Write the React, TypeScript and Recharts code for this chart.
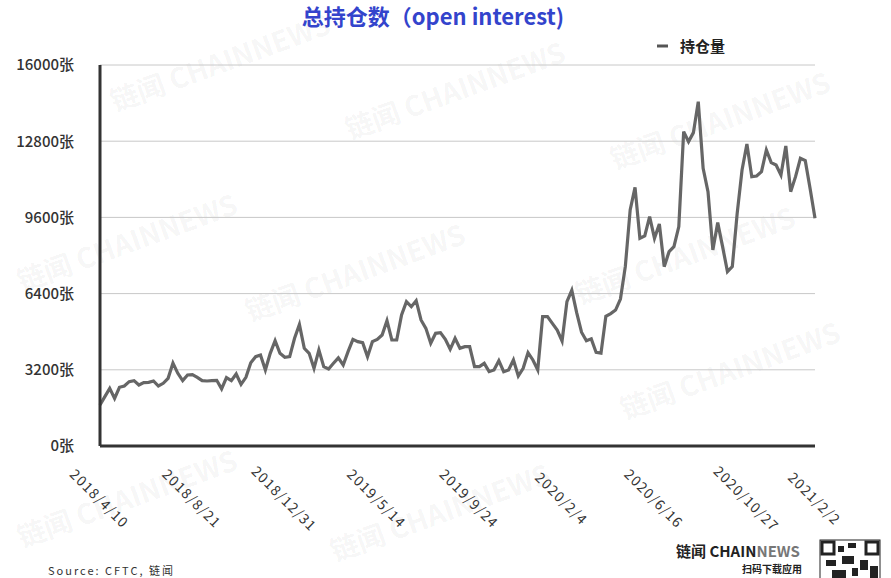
import { LineChart, Line, XAxis, YAxis, CartesianGrid } from 'recharts'

// weekly CME bitcoin futures open interest (contracts)
const openInterest = [
  1722, 2072, 2422, 2002, 2464, 2520, 2702, 2744, 2562, 2660,
  2674, 2730, 2520, 2632, 2842, 3480, 3052, 2744, 2982, 2996,
  2884, 2744, 2730, 2744, 2758, 2400, 2870, 2744, 3024, 2590,
  2884, 3500, 3752, 3822, 3192, 3892, 4424, 3892, 3724, 3752,
  4522, 5100, 4102, 3892, 3262, 4032, 3332, 3234, 3472, 3700,
  3402, 3962, 4480, 4382, 4340, 3752, 4382, 4480, 4662, 5264,
  4452, 4452, 5502, 6062, 5852, 6104, 5292, 4942, 4312, 4732,
  4760, 4480, 4060, 4522, 4102, 4172, 4172, 3332, 3332, 3472,
  3122, 3192, 3584, 3122, 3192, 3612, 2940, 3262, 3920, 3612,
  3192, 5432, 5432, 5152, 4872, 4410, 6062, 6540, 5600, 4780,
  4420, 4500, 3930, 3900, 5450, 5560, 5710, 6170, 7532, 9912,
  10864, 8722, 8820, 9632, 8722, 9324, 7532, 8162, 8372, 9212,
  13202, 12782, 13160, 14462, 11662, 10682, 8232, 9380, 8372, 7322,
  7532, 9772, 11592, 12684, 11312, 11340, 11522, 12432, 11900, 11802,
  11382, 12600, 10682, 11312, 12082, 11984, 10800, 9562,
]

const tickWeeks = [0, 19, 38, 57, 76, 95, 114, 133, 147]
const tickLabels = [
  '2018/4/10', '2018/8/21', '2018/12/31', '2019/5/14', '2019/9/24',
  '2020/2/4', '2020/6/16', '2020/10/27', '2021/2/2',
]
const yTicks = [0, 3200, 6400, 9600, 12800, 16000]

const data = openInterest.map((v, i) => ({ week: i, oi: v }))

const FONT = '"Noto Sans CJK SC", "Noto Sans", sans-serif'

const watermarks = [
  { x: 115, y: 112 },
  { x: 350, y: 140 },
  { x: 615, y: 170 },
  { x: 22, y: 292 },
  { x: 250, y: 322 },
  { x: 580, y: 305 },
  { x: 625, y: 420 },
  { x: 22, y: 548 },
  { x: 335, y: 562 },
]

function XTick(props: any) {
  const { x, y, payload } = props
  const idx = tickWeeks.indexOf(payload.value)
  return (
    <text
      transform={`translate(${x},${y + 46}) rotate(45)`}
      textAnchor="middle"
      dominantBaseline="central"
      fontSize={14}
      letterSpacing={1.2}
      fill="#333"
      fontFamily={FONT}
    >
      {tickLabels[idx]}
    </text>
  )
}

export default function App() {
  return (
    <div
      style={{
        position: 'absolute',
        left: 0,
        top: 0,
        width: 891,
        height: 578,
        overflow: 'hidden',
        background: '#fff',
        fontFamily: FONT,
      }}
    >
      <svg width={891} height={578} style={{ position: 'absolute', left: 0, top: 0 }}>
        {watermarks.map((w, i) => (
          <text
            key={i}
            x={w.x}
            y={w.y}
            transform={`rotate(-20 ${w.x} ${w.y})`}
            fontSize={28}
            fontWeight={700}
            fill="rgba(0,0,0,0.05)"
            fontFamily={FONT}
          >
            链闻 CHAINNEWS
          </text>
        ))}
      </svg>

      <div style={{ position: 'absolute', left: 0, top: 0 }}>
        <LineChart
          width={891}
          height={578}
          data={data}
          margin={{ top: 65, right: 76, bottom: 0, left: 0 }}
        >
          <CartesianGrid vertical={false} stroke="#c8c8c8" strokeWidth={1} />
          <XAxis
            type="number"
            dataKey="week"
            domain={[0, 147]}
            ticks={tickWeeks}
            interval={0}
            tick={<XTick />}
            tickLine={false}
            tickMargin={0}
            axisLine={{ stroke: '#333', strokeWidth: 3 }}
            height={132}
          />
          <YAxis
            type="number"
            domain={[0, 16000]}
            ticks={yTicks}
            interval={0}
            width={100}
            tickLine={false}
            tickMargin={20}
            axisLine={{ stroke: '#333', strokeWidth: 3 }}
            tickFormatter={(v: number) => `${v}张`}
            tick={{ fill: '#333', fontSize: 15, fontWeight: 500, fontFamily: FONT }}
          />
          <Line
            type="linear"
            dataKey="oi"
            stroke="#666"
            strokeWidth={3.2}
            dot={false}
            isAnimationActive={false}
          />
        </LineChart>
      </div>

      <svg width={891} height={578} style={{ position: 'absolute', left: 0, top: 0, pointerEvents: 'none' }}>
        <text x={433} y={25} textAnchor="middle" fontSize={22} fontWeight={700} fill="#3344cc" fontFamily={FONT}>
          总持仓数（open interest)
        </text>

        <line x1={657} y1={46} x2={668} y2={46} stroke="#555" strokeWidth={3} />
        <text x={680} y={52} fontSize={15} fontWeight={700} fill="#222" fontFamily={FONT}>
          持仓量
        </text>

        <text x={48} y={575} fontSize={11} letterSpacing={2} fill="#333" fontFamily={FONT}>
          Source: CFTC, 链闻
        </text>

        <text x={676} y={557} fontSize={15} fontWeight={700} fill="#222" fontFamily={FONT}>
          链闻 CHAIN<tspan fill="#777">NEWS</tspan>
        </text>
        <text x={802} y={573} textAnchor="end" fontSize={10} fontWeight={700} fill="#222" fontFamily={FONT}>
          扫码下载应用
        </text>

        <rect x={820} y={540} width={60} height={40} fill="#fff" stroke="#222" strokeWidth={1} />
        <rect x={822} y={542} width={12} height={12} fill="none" stroke="#222" strokeWidth={3} />
        <rect x={866} y={542} width={12} height={12} fill="none" stroke="#222" strokeWidth={3} />
        <rect x={838} y={546} width={6} height={6} fill="#222" />
        <rect x={848} y={543} width={8} height={5} fill="#222" />
        <rect x={826} y={560} width={10} height={6} fill="#222" />
        <rect x={842} y={556} width={12} height={8} fill="#222" />
        <rect x={860} y={560} width={8} height={10} fill="#222" />
        <rect x={832} y={570} width={14} height={8} fill="#222" />
        <rect x={852} y={568} width={6} height={8} fill="#222" />
        <rect x={870} y={566} width={8} height={12} fill="#222" />
      </svg>
    </div>
  )
}
